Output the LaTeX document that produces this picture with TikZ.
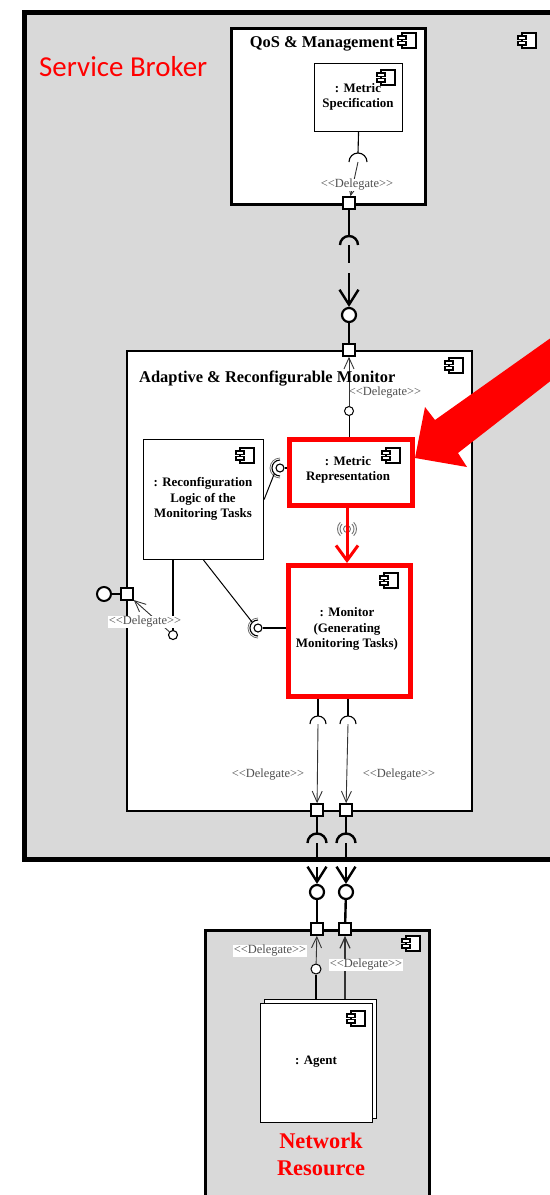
\documentclass[tikz,border=0pt]{standalone}
\usepackage{fontspec}
\setmainfont{Liberation Serif}
\newfontfamily\brokerfont{Carlito}
\usetikzlibrary{arrows.meta,calc}
\definecolor{panel}{RGB}{217,217,217}
\definecolor{hot}{RGB}{255,0,0}
\definecolor{stereo}{RGB}{80,80,80}
% stereotype label, kerns keep << and >> from turning into guillemets
\newcommand\dlgtext{<\kern0pt<Delegate>\kern0pt>}
\tikzset{
  comp/.style={draw=black, fill=white, line width=1.1bp, inner sep=0pt, anchor=north west},
  hotcomp/.style={draw=hot, fill=white, line width=4.5bp, inner sep=0pt, anchor=north west},
  frame/.style={draw=black, fill=panel, inner sep=0pt, anchor=north west},
  port/.style={rectangle, draw=black, fill=white, line width=1.6bp, minimum size=12bp, inner sep=0pt},
  ball/.style={circle, draw=black, fill=white, inner sep=0pt, line width=1.1bp},
  dlg/.style={font=\fontsize{12.5}{13}\selectfont, text=stereo, inner sep=0.6bp},
  dlgw/.style={dlg, fill=white},
  lbl/.style={font=\bfseries\fontsize{13}{15.5}\selectfont, align=center, inner sep=0pt},
  ttl/.style={font=\bfseries\fontsize{16.5}{18}\selectfont, inner sep=0pt},
  thinwire/.style={line width=0.9bp, draw=black!80},
  wire/.style={line width=2.4bp},
  delegarrow/.style={-{Straight Barb[length=11bp,width=10bp]}},
  bigarrow/.style={-{Straight Barb[length=15bp,width=19bp]}},
  pics/umlicon/.style={code={
    \draw[line width=#1, fill=white] (4,0) rectangle (18,15);
    \draw[line width=#1, fill=white] (0,3) rectangle (8,6.5);
    \draw[line width=#1, fill=white] (0,8.5) rectangle (8,12);
  }},
  pics/umlicon/.default=1.1bp,
}
\begin{document}
\begin{tikzpicture}[x=1bp,y=-1bp]
\useasboundingbox (0,0) rectangle (550,1195);
\clip (0,0) rectangle (550,1195);

% ---------------- Service Broker ----------------
\node[frame, line width=4.5bp, minimum width=560bp, minimum height=847bp] (broker) at (22,10) {};
\node[anchor=base west, text=hot, inner sep=0pt, font=\brokerfont\fontsize{29}{30}\selectfont] (brokername) at (39,76) {Service Broker};
\pic at (518,33) {umlicon=1.8bp};

% ---------------- QoS & Management ----------------
\node[comp, line width=2.6bp, minimum width=194bp, minimum height=176bp] (qos) at (230,27) {};
\node[ttl, anchor=base] (qostitle) at (322,47) {QoS \& Management};
\pic at (398,33) {umlicon=1.8bp};
\node[comp, minimum width=88bp, minimum height=68bp] (mspec) at (314,63) {};
\pic at (377,70) {umlicon};
\node[lbl] (mspectext) at (358,97) {: Metric\\Specification};
\coordinate (sockq) at (358,162);
\coordinate (sockqtop) at (358,153);
\draw[line width=1.1bp] (mspec.south) -- (sockqtop);
\draw[line width=1.1bp] (349,162) arc[start angle=180,end angle=360,radius=9];
\node[port] (pq) at (349,203) {};
\draw[thinwire, delegarrow] (sockq) -- (pq);
\node[dlgw] (dq) at (357,185) {\dlgtext};

% ---------------- QoS -> Monitor assembly ----------------
\coordinate (sk0) at (349,245);
\coordinate (sk0top) at (349,236);
\coordinate (sk0a) at (349,263);
\coordinate (sk0b) at (349,273);
\node[ball, line width=2.2bp, minimum size=14bp] (bb0) at (349,315) {};
\node[port] (pa) at (349,350) {};
\draw[wire] (pq) -- (sk0top);
\draw[wire] (340,245) arc[start angle=180,end angle=360,radius=9];
\draw[wire] (sk0) -- (sk0a);
\draw[wire, bigarrow] (sk0b) -- (bb0);
\draw[wire] (bb0) -- (pa);

% ---------------- Adaptive & Reconfigurable Monitor ----------------
\node[comp, line width=2bp, minimum width=345bp, minimum height=460bp] (arm) at (126,350) {};
\node[port] at (pa) {};
\pic at (445,358) {umlicon=1.8bp};
\node[ball, line width=1bp, minimum size=9bp] (ballmr) at (349,411) {};
\draw[thinwire, delegarrow] (ballmr) -- (pa);
\node[ttl, anchor=base west] (armtitle) at (139,382) {Adaptive \& Reconfigurable Monitor};
\node[dlg] (dtop) at (385,393) {\dlgtext};

% Metric Representation
\node[hotcomp, minimum width=123bp, minimum height=66bp] (mrep) at (287,437) {};
\pic at (382,448) {umlicon};
\node[lbl] (mreptext) at (348,470) {: Metric\\Representation};
\draw[line width=1bp] (ballmr) -- (ballmr |- mrep.north);

% Reconfiguration Logic
\node[comp, minimum width=120bp, minimum height=120bp] (reconf) at (143,439) {};
\pic at (236,448) {umlicon};
\node[lbl] (reconftext) at (203,499) {: Reconfiguration\\Logic of the\\Monitoring Tasks};

% Monitor
\node[hotcomp, minimum width=122bp, minimum height=131bp] (mon) at (286,563) {};
\pic at (380,573) {umlicon};
\node[lbl] (montext) at (347,629) {: Monitor\\(Generating\\Monitoring Tasks)};

% reconfiguration logic uses the metric representation
\node[ball, minimum size=8bp] (ballrc) at (280,468) {};
\draw[line width=1.1bp] (ballrc.east) -- (ballrc.east -| mrep.west);
\draw[line width=1.1bp] (280,460) arc[start angle=270,end angle=90,radius=8];
\draw[line width=0.7bp, black!60] (280,458) arc[start angle=270,end angle=90,radius=10];
\coordinate (rcsock) at (274.3,473.7);
\draw[line width=1bp] (reconf.east) -- (rcsock);

% reconfiguration logic drives the monitor
\node[ball, minimum size=8bp] (ballmon) at (258,628) {};
\draw[line width=1.1bp] (ballmon.east) -- (ballmon.east -| mon.west);
\draw[line width=1.1bp] (258,620) arc[start angle=270,end angle=90,radius=8];
\draw[line width=0.7bp, black!60] (258,618) arc[start angle=270,end angle=90,radius=10];
\coordinate (monsock) at (252.3,622.3);
\draw[line width=1bp] (reconf.south) -- (monsock);

% reconfiguration logic offers an interface to the outside
\node[ball, minimum size=9bp] (ballrl) at (173,635) {};
\draw[line width=1.1bp] (reconf.south -| ballrl) -- (ballrl);
\node[port] (pl) at (127,594) {};
\node[ball, line width=2bp, minimum size=14bp] (balll) at (104,594) {};
\draw[line width=2bp] (balll) -- (pl);
\draw[thinwire, delegarrow] (ballrl) -- (pl);
\node[dlgw] (dl) at (145,622) {\dlgtext};

% metric representation feeds the monitor
\node[ball, draw=black!55, line width=0.9bp, minimum size=7bp] (ghost) at (347,529) {};
\draw[black!55, line width=0.9bp] (347,529) ++(135:7) arc[start angle=135,end angle=225,radius=7];
\draw[black!55, line width=0.9bp] (347,529) ++(-45:7) arc[start angle=-45,end angle=45,radius=7];
\draw[black!55, line width=0.9bp] (347,529) ++(135:9.5) arc[start angle=135,end angle=225,radius=9.5];
\draw[black!55, line width=0.9bp] (347,529) ++(-45:9.5) arc[start angle=-45,end angle=45,radius=9.5];
\draw[hot, line width=3bp, -{Straight Barb[length=15bp,width=22bp]}] (mrep.south -| ghost) -- (ghost |- mon.north);

% monitor outputs delegated to the boundary
\coordinate (s1) at (318,724);
\coordinate (s2) at (348,724);
\coordinate (s1top) at (318,716);
\coordinate (s2top) at (348,716);
\draw[line width=1.1bp] (mon.south -| s1) -- (s1top);
\draw[line width=1.1bp] (mon.south -| s2) -- (s2top);
\draw[line width=1.1bp] (310,724) arc[start angle=180,end angle=360,radius=8];
\draw[line width=1.1bp] (340,724) arc[start angle=180,end angle=360,radius=8];
\node[port] (pb1) at (317,810) {};
\node[port] (pb2) at (346,810) {};
\draw[thinwire, delegarrow] (s1) -- (pb1);
\draw[thinwire, delegarrow] (s2) -- (pb2);
\node[dlg] (dm1) at (268,775) {\dlgtext};
\node[dlg] (dm2) at (399,775) {\dlgtext};

% ---------------- Broker -> Network Resource assembly ----------------
\coordinate (sk1) at (317,843);
\coordinate (sk2) at (346,843);
\coordinate (sk1top) at (317,833.5);
\coordinate (sk2top) at (346,833.5);
\coordinate (sk1a) at (317,862);
\coordinate (sk2a) at (346,862);
\coordinate (sk1b) at (317,867);
\coordinate (sk2b) at (346,867);
\draw[wire] (pb1) -- (sk1top);
\draw[wire] (pb2) -- (sk2top);
\draw[wire] (307.5,843) arc[start angle=180,end angle=360,radius=9.5];
\draw[wire] (336.5,843) arc[start angle=180,end angle=360,radius=9.5];
\draw[wire] (sk1) -- (sk1a);
\draw[wire] (sk2) -- (sk2a);

% ---------------- Network Resource ----------------
\node[frame, line width=2.5bp, minimum width=224bp, minimum height=300bp] (nr) at (204,929) {};
\pic at (402,936) {umlicon=1.8bp};
\node[port] (pn1) at (317,929) {};
\node[port] (pn2) at (345,929) {};
\node[ball, line width=2.2bp, minimum size=14bp] (bb1) at (317,892) {};
\node[ball, line width=2.2bp, minimum size=14bp] (bb2) at (346,892) {};
\draw[wire, bigarrow] (sk1b) -- (bb1);
\draw[wire, bigarrow] (sk2b) -- (bb2);
\draw[wire] (bb1) -- (pn1);
\draw[wire] (bb2) -- (pn2);

% Agent (multiple instances)
\node[comp, minimum width=112bp, minimum height=119bp] (agentback) at (264,999) {};
\node[comp, minimum width=112bp, minimum height=119bp] (agent) at (260,1003) {};
\pic at (347,1011) {umlicon};
\node[lbl] (agenttext) at (316,1062) {: Agent};
\node[ball, minimum size=10bp, line width=1bp] (bn1) at (316,969) {};
\draw[line width=1.1bp] (bn1) -- (bn1 |- agentback.north);
\draw[thinwire, delegarrow] (bn1) -- (pn1);
\draw[thinwire, line width=1.2bp, delegarrow] (pn2 |- agentback.north) -- (pn2);
\node[dlgw] (dn1) at (270,951) {\dlgtext};
\node[dlgw] (dn2) at (366,965) {\dlgtext};
\node[text=hot, align=center, inner sep=0pt, font=\bfseries\fontsize{22.5}{27}\selectfont] (nrname) at (321,1154) {Network\\Resource};

% ---------------- highlight arrow ----------------
\fill[hot] (562,330) -- (435,420) -- (425,407) -- (415,458) -- (467,467) -- (458,453) -- (562,372) -- cycle;
\end{tikzpicture}
\end{document}
